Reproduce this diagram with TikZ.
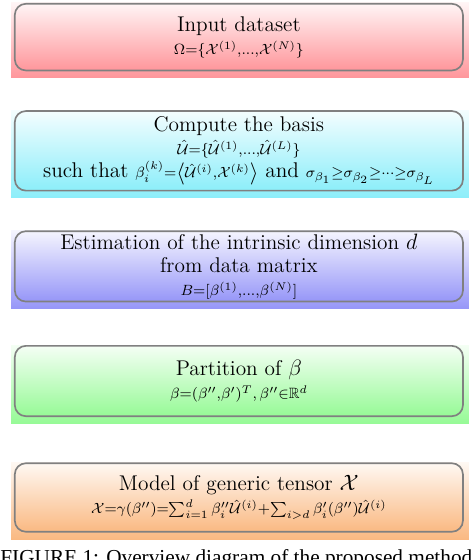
\documentclass[tikz,border=0pt]{standalone}
\usepackage{amsmath}
\usepackage{amssymb}
\usepackage{fontspec}
\newfontfamily\capfont{Liberation Serif}
\usetikzlibrary{positioning,backgrounds}

\definecolor{boxred}{RGB}{255,150,155}
\definecolor{boxcyan}{RGB}{140,238,250}
\definecolor{boxblue}{RGB}{150,150,248}
\definecolor{boxgreen}{RGB}{150,250,150}
\definecolor{boxorange}{RGB}{250,185,130}

\tikzset{
  stagebox/.style={draw=gray, line width=0.9pt, rounded corners=6pt,
    minimum width=242pt, align=center, inner sep=1pt,
    font=\fontsize{11.5}{12.5}\selectfont,
    top color=#1!10, bottom color=#1},
}

\begin{document}
\begin{tikzpicture}
      \useasboundingbox (0,0) rectangle (256pt,-302.4pt);

      \node [stagebox=boxred, minimum height=36pt, anchor=north] (1) at (129pt,-1.6pt)
        {Input dataset\\ $\scriptstyle \Omega=\{\mathcal{X}^{(1)},\ldots,\mathcal{X}^{(N)}\}$};
      \node [stagebox=boxcyan, minimum height=43pt, below=21pt of 1] (2)
        {Compute the basis\\ $\scriptstyle \hat{\mathcal{U}}=\{\hat{\mathcal{U}}^{(1)},\ldots,\hat{\mathcal{U}}^{(L)}\}$\\
         such that $\scriptstyle \beta_i^{(k)}=\left\langle\hat{\mathcal{U}}^{(i)},\mathcal{X}^{(k)}\right\rangle$ and
         $\scriptstyle \sigma_{\beta_1}\geq\sigma_{\beta_2}\geq\cdots\geq\sigma_{\beta_L}$};
      \node [stagebox=boxblue, minimum height=38pt, below=21pt of 2] (3)
        {Estimation of the intrinsic dimension $d$\\ from data matrix\\
         $\scriptstyle B=[\beta^{(1)},\ldots,\beta^{(N)}]$};
      \node [stagebox=boxgreen, minimum height=38pt, below=23pt of 3] (4)
        {Partition of $\beta$\\ $\scriptstyle \beta=(\beta'',\beta')^T,\,\beta''\in\mathbb{R}^d$};
      \node [stagebox=boxorange, minimum height=37pt, below=24.5pt of 4] (5)
        {Model of generic tensor $\mathcal{X}$\\
         $\scriptstyle \mathcal{X}=\gamma(\beta'')=\sum_{i=1}^{d}\beta''_i\hat{\mathcal{U}}^{(i)}+\sum_{i>d}\beta'_i(\beta'')\hat{\mathcal{U}}^{(i)}$};

      % coloured plates behind the boxes
      \begin{scope}[on background layer]
        \foreach \n/\c in {1/boxred,2/boxcyan,3/boxblue,4/boxgreen,5/boxorange}
          \shade[top color=\c!10, bottom color=\c]
            ([xshift=-1.6pt]\n.north west) rectangle ([xshift=2.7pt,yshift=-3.5pt]\n.south east);
      \end{scope}

      \node [anchor=base west, inner sep=0pt, font=\capfont\fontsize{11.5}{14}\selectfont] (cap) at (0pt,-305pt)
        {FIGURE 1: Overview diagram of the proposed method};
\end{tikzpicture}
\end{document}
